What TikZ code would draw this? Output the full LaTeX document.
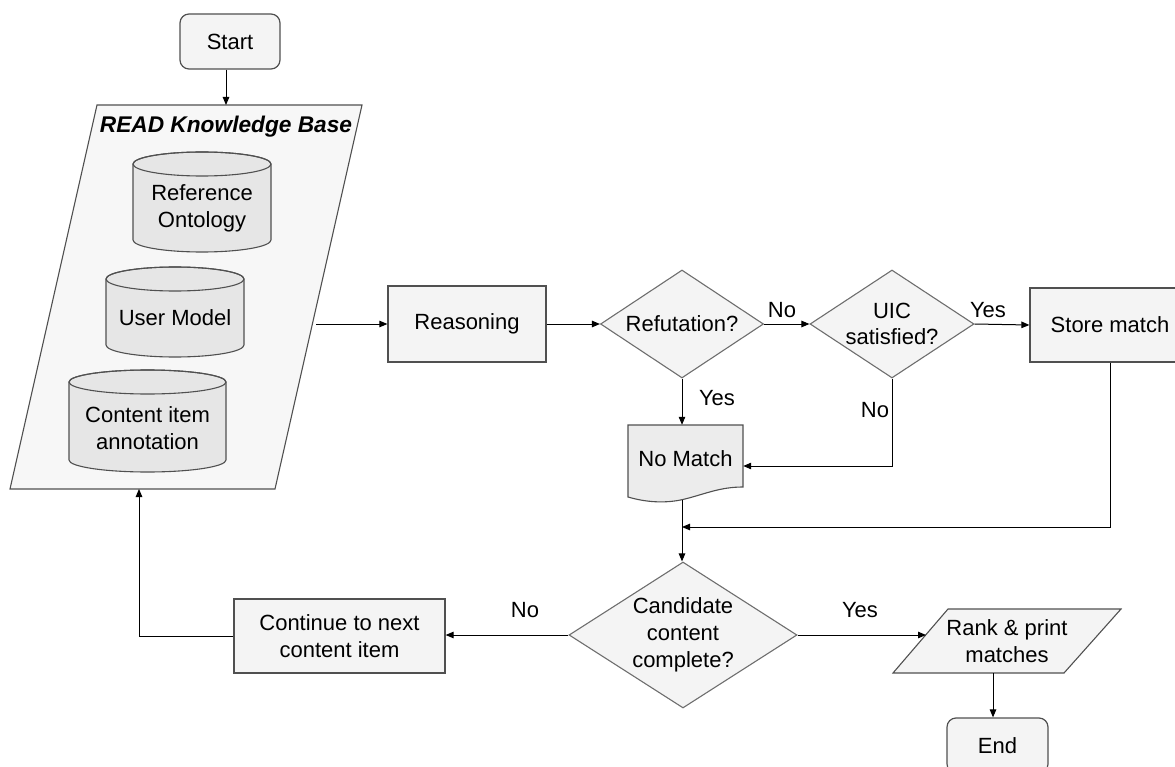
\documentclass[tikz,border=0pt]{standalone}
\usepackage{fontspec}
\setmainfont{Liberation Sans}
\usetikzlibrary{shapes.geometric,arrows.meta}

\definecolor{edge}{HTML}{505050}
\definecolor{decedge}{HTML}{6E6E6E}
\definecolor{panel}{HTML}{F7F7F7}
\definecolor{boxfill}{HTML}{F4F4F4}
\definecolor{dbfill}{HTML}{E6E6E6}
\definecolor{docfill}{HTML}{ECECEC}

% database drum: left, right, top, bottom (y grows downwards)
\newcommand\dbdrum[4]{%
  \pgfmathsetmacro\drumcx{(#1+#2)/2}%
  \pgfmathsetmacro\drumrx{(#2-#1)/2}%
  \filldraw[draw=edge, fill=dbfill, line width=1.1pt]
    (#1,#3+12) -- (#1,#4-12)
    arc[start angle=180, end angle=360, x radius=\drumrx pt, y radius=12pt]
    -- (#2,#3+12)
    arc[start angle=0, end angle=180, x radius=\drumrx pt, y radius=12pt]
    -- cycle;
  \draw[edge, line width=1.1pt] (\drumcx,#3+12) ellipse[x radius=\drumrx pt, y radius=12pt];
}

\begin{document}
\begin{tikzpicture}[x=1pt, y=-1pt,
  every node/.style={font=\fontsize{22}{26.7}\selectfont, align=center, inner sep=0pt},
  proc/.style={draw=edge, fill=boxfill, line width=1.2pt, rectangle},
  term/.style={proc, rounded corners=9pt},
  decide/.style={draw=decedge, fill=boxfill, line width=1.1pt, diamond, inner sep=-4pt},
  link/.style={line width=1pt, -{Triangle[length=8pt, width=6.5pt]}},
  wire/.style={line width=1pt}]

\useasboundingbox (0,0) rectangle (1175,767);
\clip (0,0) rectangle (1175,767);

% knowledge base panel with its three stores
\filldraw[draw=edge, fill=panel, line width=1.1pt]
  (97,105) -- (362,105) -- (275,489) -- (10,489) -- cycle;
\node (kbtitle) at (226,127) {\fontsize{22.7}{27}\selectfont\bfseries\itshape READ Knowledge Base};
\coordinate (kbin) at (226,105);
\coordinate (kbout) at (316,324);
\coordinate (kbloop) at (139,489);

\dbdrum{133}{271}{152}{252}
\node (refont) at (202,208) {Reference\\Ontology};
\dbdrum{106}{244}{267}{357}
\node (usermodel) at (175,318) {User Model};
\dbdrum{69}{226}{370}{472}
\node (annot) at (147.5,428) {Content item\\annotation};

% flow nodes
\node[term, minimum width=100pt, minimum height=55pt] (start) at (230,41.5) {Start};
\node[proc, minimum width=158pt, minimum height=76pt] (reason) at (467,324) {Reasoning};
\node[decide, minimum width=163pt, minimum height=108pt, aspect=1.5] (refut) at (682,324) {Refutation?};
\node[decide, minimum width=164pt, minimum height=108pt, aspect=1.52] (uic) at (892,324) {UIC\\satisfied?};
\node[proc, minimum width=160pt, minimum height=74pt] (store) at (1110,325) {Store match};

% document shape for the rejected case
\filldraw[draw=edge, fill=docfill, line width=1.1pt]
  (628,425) -- (743,425) -- (743,487)
  .. controls (720,487) and (705,494) .. (685,499)
  .. controls (665,504) and (645,502) .. (628,497) -- cycle;
\node[minimum width=115pt, minimum height=68pt] (nomatch) at (685.5,459) {No Match};
\coordinate (nmbot) at (682,500);
\coordinate (merge) at (682,527);

\node[decide, minimum width=228pt, minimum height=146pt, aspect=1.56] (cand) at (683,635) {Candidate\\content\\complete?};
\node[proc, minimum width=211pt, minimum height=74pt] (cont) at (339.5,636) {Continue to next\\content item};

% output parallelogram
\filldraw[draw=edge, fill=boxfill, line width=1.1pt]
  (948,609) -- (1121,609) -- (1064,673) -- (893,673) -- cycle;
\node (rank) at (1007,641) {Rank \& print\\matches};
\coordinate (rankin) at (926,635);
\coordinate (rankout) at (993,673);

\node[term, minimum width=101pt, minimum height=55pt] (end) at (997.5,745.5) {End};

% connectors
\draw[link] (start.south -| kbin) -- (kbin);
\draw[link] (kbout) -- (reason.west);
\draw[link] (reason.east) -- (refut.west);
\draw[link] (refut.east) -- (uic.west);
\draw[link] (uic.east) -- (store.west);
\draw[link] (refut.south) -- (refut.south |- nomatch.north);
\draw[link] (uic.south) |- ([yshift=-7pt]nomatch.east);
\draw[link] (store.south) |- (merge);
\draw[link] (nmbot) -- (nmbot |- cand.north);
\draw[link] (cand.west) -- (cand.west -| cont.east);
\draw[link] (cont.west) -| (kbloop);
\draw[link] (cand.east) -- (rankin);
\draw[link] (rankout) -- (rankout |- end.north);

% branch labels
\node (noA) at (782,310) {No};
\node (yesA) at (988,310) {Yes};
\node (yesB) at (717,398) {Yes};
\node (noB) at (875,410) {No};
\node (noC) at (525,610) {No};
\node (yesC) at (860,610) {Yes};

\end{tikzpicture}
\end{document}
